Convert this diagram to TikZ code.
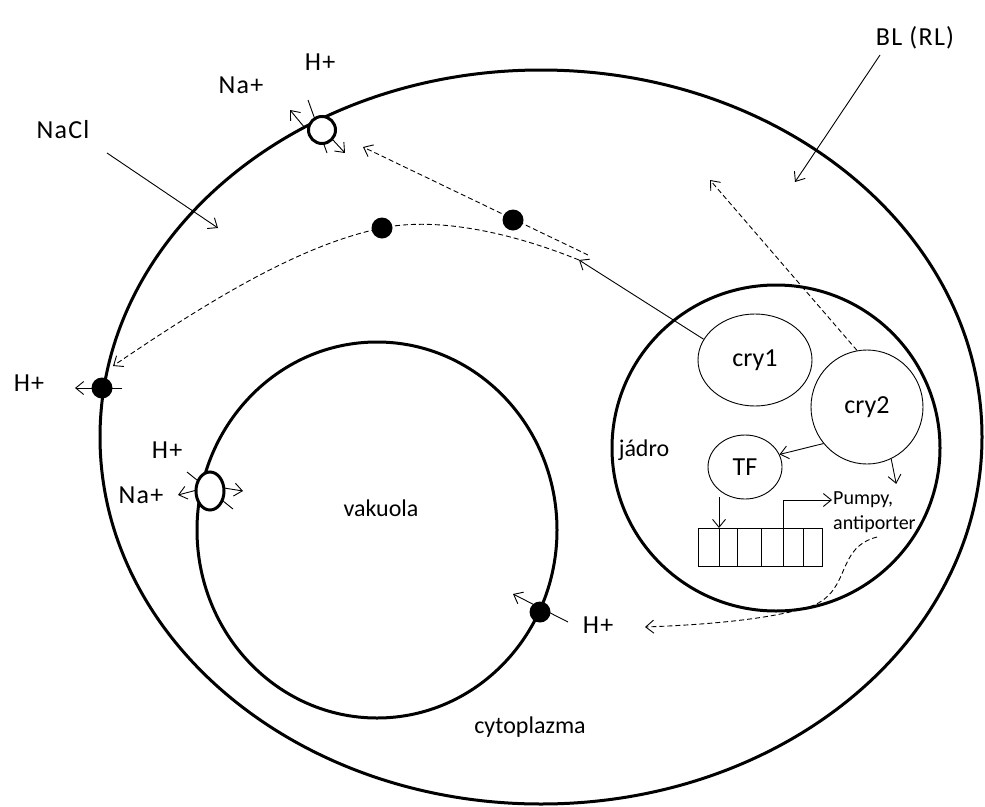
\documentclass[tikz,border=0pt]{standalone}
\usepackage{fontspec}
\setmainfont{Carlito}
\newfontfamily\ionfont[LetterSpace=5]{Carlito}
\usetikzlibrary{arrows.meta,shapes.geometric}
\begin{document}
\begin{tikzpicture}[x=1pt,y=-1pt,
  membrane/.style={line width=3pt},
  thinline/.style={line width=0.9pt},
  arr/.style={thinline,-{Straight Barb[length=8pt,width=13pt]}},
  darr/.style={arr,dashed,dash pattern=on 5pt off 3pt},
  lab/.style={inner sep=0pt,font=\fontsize{24}{26}\selectfont},
  ion/.style={inner sep=0pt,font=\fontsize{26}{28}\ionfont},
  small/.style={inner sep=0pt,font=\fontsize{20}{22}\selectfont},
  blob/.style={ellipse,draw,thinline,inner sep=0pt,font=\fontsize{26}{28}\selectfont},
  dot/.style={circle,fill=black,inner sep=0pt,minimum size=21pt},
  carrier/.style={draw,membrane,fill=white,inner sep=0pt}]
\useasboundingbox (0,0) rectangle (985,806);

% cell, vacuole and nucleus
\draw[membrane] (541,437) ellipse [x radius=441, y radius=367];
\draw[membrane] (377,530) ellipse [x radius=180, y radius=188];
\draw[membrane] (776,448) ellipse [x radius=164, y radius=163];

% labels of compartments
\node[lab] (vak) at (381,508) {vakuola};
\node[lab] (cyt) at (530,727) {cytoplazma};
\node[lab] (jad) at (644,450) {jádro};

% proteins inside the nucleus
\node[blob,minimum width=114pt,minimum height=92pt] (cry1) at (755,360) {cry1};
\node[blob,minimum width=112pt,minimum height=114pt] (cry2) at (867,407) {cry2};
\node[blob,minimum width=74pt,minimum height=64pt] (tf) at (745,467) {TF};

% gene (promoter + coding region)
\node[draw,thinline,minimum width=124pt,minimum height=38pt,inner sep=0pt,anchor=north west] (gene) at (698,528) {};
\foreach \xx in {719,737,761,783,803} \draw[thinline] (\xx,528) -- (\xx,566);
\coordinate (tss) at (783,528);
\coordinate (pumpend) at (832,500);
\node[small,anchor=west] (pumpy) at (833,500) {Pumpy,};
\node[small,anchor=west] (anti) at (833,524) {antiporter};

\coordinate (tfe) at (719,528);
\draw[arr] (tf.south -| tfe) ++(0,-2) -- (tfe);
\draw[arr] (tss) |- (pumpend);
\draw[arr] (cry2.220) -- (tf.20);
\draw[arr] (cry2.295) -- ++(5,25) coordinate (cry2out);

% signalling from cry1 / cry2
\coordinate (hub) at (579,260);
\coordinate (hubb) at (588,255);
\draw[arr] (cry1.158) -- (hub);
\coordinate (cry2tip) at (710,180);
\draw[darr] (cry2.100) -- (cry2tip);

% H+ pump in the plasma membrane
\node[dot] (hdot) at (102,388) {};
\coordinate (hdotr) at (122,388);
\coordinate (hdotl) at (75,388);
\draw[arr] (hdotr) -- (hdotl);

\coordinate (pmin) at (113,366);
\coordinate (pmtop) at (363,147);
\node[dot] (sig1) at (513,220) {};
\node[dot] (sig2) at (382,228) {};
\draw[darr] (hub) .. controls (500,228) and (430,218) .. (sig2.center)
   .. controls (300,245) and (210,300) .. (pmin);
\draw[darr] (hubb) -- (pmtop);

% Na+/H+ antiporter in the plasma membrane
\coordinate (aa) at (308,100);
\coordinate (ab) at (327,153);
\draw[thinline] (aa) -- (ab);
\draw[arr] (305,128) coordinate (ao1) -- (290,110) coordinate (ao2);
\draw[arr] (333,140) coordinate (ai1) -- (345,153) coordinate (ai2);
\node[circle,carrier,minimum size=27pt] (anti1) at (322,130) {};
\node[ion] (na1) at (241,85) {Na+};
\node[ion] (h1) at (320,62) {H+};

% Na+/H+ antiporter in the tonoplast
\coordinate (va) at (187,472);
\coordinate (vb) at (233,509);
\draw[thinline] (va) -- (vb);
\draw[arr] (197,490) coordinate (vo1) -- (178,495) coordinate (vo2);
\draw[arr] (224,488) coordinate (vi1) -- (243,491) coordinate (vi2);
\node[ellipse,carrier,minimum width=28pt,minimum height=38pt] (anti2) at (210,491) {};
\node[ion] (h2) at (167,450) {H+};
\node[ion] (na2) at (141,495) {Na+};

% H+ pump in the tonoplast
\node[dot] (vdot) at (540,612) {};
\draw[arr] (568,622) coordinate (vps) -- (513,594) coordinate (vpe);
\node[ion] (h3) at (598,625) {H+};

% pumps made from the gene go to the membranes
\coordinate (gs) at (877,537);
\coordinate (ge) at (645,627);
\draw[darr] (gs) .. controls (835,548) and (852,590) .. (812,606)
   .. controls (770,620) and (700,625) .. (ge);

% outer signals
\node[ion] (h0) at (29,383) {H+};
\node[ion] (nacl) at (63,130) {NaCl};
\coordinate (nacls) at (107,153);
\coordinate (nacle) at (218,228);
\draw[arr] (nacls) -- (nacle);
\node[ion] (bl) at (915,38) {BL (RL)};
\coordinate (bls) at (880,55);
\coordinate (ble) at (795,182);
\draw[arr] (bls) -- (ble);
\end{tikzpicture}
\end{document}
